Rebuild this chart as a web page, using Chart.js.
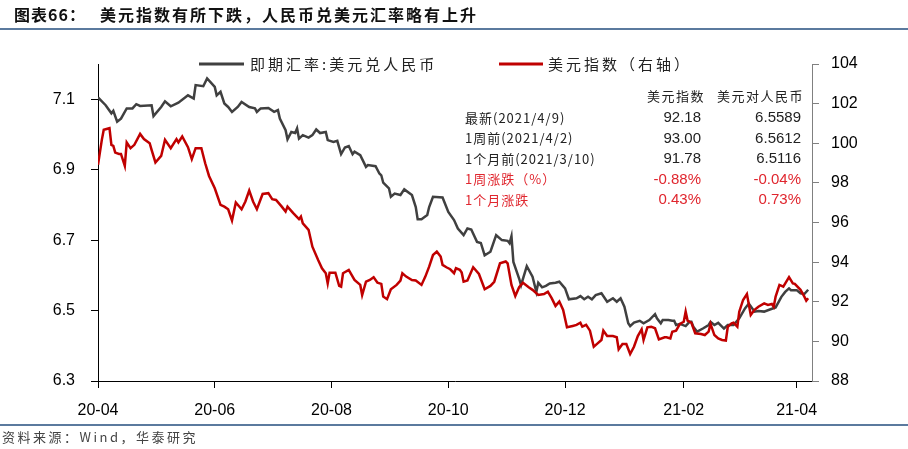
<!DOCTYPE html>
<html>
<head>
<meta charset="utf-8">
<script src="https://cdn.jsdelivr.net/npm/chart.js@4.4.1/dist/chart.umd.min.js"></script>
<style>
  body { margin: 0; background: #fff; }
  canvas { display: block; }
</style>
</head>
<body>
<canvas id="fxChart" width="908" height="449"></canvas>
<script>
// x values are days since 2020-04-01
const dayTicks = [0, 61, 122, 183, 244, 306, 365];
const dayTickLabels = ['20-04', '20-06', '20-08', '20-10', '20-12', '21-02', '21-04'];
const leftTicks = [6.3, 6.5, 6.7, 6.9, 7.1];

// 即期汇率: 美元兑人民币 (left axis)
const cnyDays = [0, 4, 7, 8, 10, 12, 15, 18, 20, 22, 28, 29, 33, 35, 38, 42, 47, 50, 51, 55, 57, 61, 62, 64, 66, 68, 70, 73, 75, 79,
  82, 83, 85, 89, 92, 94, 95, 98, 99, 101, 103, 104, 105, 107, 110, 112, 114, 116, 119, 120, 123, 125, 127, 129, 131, 133, 134, 137, 140, 141,
  145, 147, 148, 149, 152, 153, 155, 158, 160, 164, 166, 167, 169, 172, 173, 175, 180, 183, 186, 188, 191, 193, 195, 198, 200, 202, 205, 208, 211, 214,
  215, 216, 217, 220, 221, 224, 227, 229, 230, 232, 234, 236, 239, 241, 244, 246, 250, 252, 254, 256, 258, 260, 263, 266, 269, 271, 273, 275, 277, 278,
  280, 283, 285, 288, 291, 292, 294, 295, 298, 300, 301, 302, 304, 307, 309, 310, 311, 313, 316, 319, 320, 322, 324, 327, 329, 332, 335, 338, 340, 343,
  345, 348, 351, 354, 357, 359, 361, 362, 365, 367, 369, 371];
const cnyRate = [7.105, 7.083, 7.06, 7.067, 7.036, 7.045, 7.074, 7.074, 7.086, 7.081, 7.083, 7.052, 7.078, 7.094, 7.08, 7.09, 7.111, 7.102, 7.14, 7.137, 7.159, 7.135, 7.111, 7.121, 7.088, 7.078, 7.064, 7.078, 7.092, 7.078,
  7.074, 7.064, 7.074, 7.075, 7.064, 7.069, 7.045, 7.012, 6.986, 7.007, 7.004, 7.017, 6.988, 6.998, 6.991, 6.998, 7.014, 7.004, 7.007, 6.984, 6.979, 6.982, 6.944, 6.963, 6.967, 6.944, 6.951, 6.941, 6.908, 6.913,
  6.91, 6.889, 6.884, 6.863, 6.847, 6.823, 6.832, 6.828, 6.844, 6.828, 6.794, 6.759, 6.759, 6.771, 6.794, 6.823, 6.821, 6.78, 6.757, 6.733, 6.714, 6.733, 6.73, 6.695, 6.692, 6.657, 6.667, 6.714, 6.7, 6.698,
  6.691, 6.711, 6.638, 6.591, 6.572, 6.626, 6.596, 6.553, 6.579, 6.566, 6.57, 6.577, 6.579, 6.582, 6.563, 6.532, 6.535, 6.541, 6.532, 6.539, 6.532, 6.544, 6.549, 6.525, 6.535, 6.525, 6.535, 6.511, 6.464, 6.456,
  6.466, 6.471, 6.464, 6.473, 6.49, 6.478, 6.464, 6.473, 6.473, 6.471, 6.471, 6.459, 6.462, 6.456, 6.468, 6.468, 6.454, 6.44, 6.449, 6.459, 6.468, 6.459, 6.465, 6.449, 6.459, 6.459, 6.478, 6.506, 6.52, 6.497,
  6.499, 6.497, 6.503, 6.509, 6.539, 6.553, 6.563, 6.558, 6.558, 6.549, 6.547, 6.559];

// 美元指数 (right axis)
const dxyDays = [0, 2, 3, 6, 7, 8, 9, 11, 12, 14, 15, 17, 19, 22, 24, 27, 28, 30, 33, 35, 38, 41, 42, 44, 47, 49, 51, 54, 56, 58,
  61, 64, 66, 68, 70, 72, 75, 77, 79, 81, 83, 86, 89, 91, 93, 96, 98, 99, 102, 105, 106, 107, 110, 112, 115, 117, 119, 120, 121, 124,
  126, 127, 128, 131, 134, 137, 138, 140, 142, 144, 146, 148, 149, 151, 153, 156, 158, 159, 161, 164, 166, 169, 171, 173, 175, 177, 179, 180, 182, 184,
  186, 187, 189, 190, 191, 193, 196, 199, 202, 205, 207, 210, 213, 214, 216, 218, 220, 222, 225, 227, 230, 233, 235, 237, 239, 241, 243, 245, 248, 250,
  252, 253, 255, 257, 259, 261, 263, 264, 266, 269, 271, 272, 274, 276, 278, 280, 282, 284, 285, 287, 289, 291, 293, 296, 297, 299, 300, 302, 304, 306,
  307, 308, 310, 312, 315, 317, 319, 320, 322, 324, 326, 328, 329, 331, 332, 334, 335, 337, 339, 341, 343, 345, 348, 350, 352, 353, 354, 356, 358, 361,
  363, 364, 367, 369, 370, 371];
const dxyIndex = [98.91, 100.17, 100.68, 100.76, 99.92, 99.87, 99.53, 99.46, 99.46, 98.86, 100.04, 99.75, 99.92, 100.47, 100.21, 100.0, 99.67, 99.03, 99.36, 100.17, 99.75, 100.21, 100.04, 100.34, 99.8, 99.2, 99.75, 99.75, 98.99, 98.35,
  97.73, 96.89, 96.8, 96.67, 96.1, 97.01, 96.67, 97.06, 97.61, 97.06, 96.67, 97.44, 97.48, 97.18, 97.14, 96.8, 96.55, 96.8, 96.47, 96.17, 96.3, 95.96, 95.63, 94.78, 94.11, 93.69, 93.44, 92.93, 93.47, 93.47,
  92.8, 92.76, 93.44, 93.61, 93.1, 92.85, 92.34, 93.01, 93.1, 93.24, 92.96, 92.9, 92.26, 92.13, 92.63, 92.85, 93.07, 93.44, 93.27, 93.1, 93.07, 92.85, 93.27, 93.77, 94.36, 94.53, 94.28, 93.86, 93.74, 93.64,
  93.44, 93.69, 93.61, 93.47, 93.01, 93.07, 93.74, 93.4, 92.63, 92.8, 93.01, 93.94, 94.03, 93.94, 92.85, 92.29, 92.73, 92.96, 92.73, 92.6, 92.34, 92.39, 92.51, 92.18, 91.79, 92.01, 91.59, 90.71, 90.78, 90.83,
  90.94, 90.74, 90.83, 90.54, 89.73, 89.9, 90.07, 90.54, 90.27, 90.27, 90.21, 89.6, 89.87, 89.87, 89.36, 89.73, 90.27, 90.61, 90.07, 90.71, 90.74, 90.66, 90.1, 90.21, 90.21, 90.15, 90.49, 90.54, 90.88, 90.99,
  91.5, 91.05, 90.94, 90.41, 90.37, 90.32, 90.49, 90.88, 90.32, 90.15, 90.07, 90.04, 90.74, 90.91, 90.94, 90.74, 91.5, 92.09, 92.39, 91.33, 91.59, 91.75, 91.92, 91.84, 91.89, 91.75, 92.26, 92.85, 92.76, 93.24,
  92.93, 92.9, 92.6, 92.26, 92.06, 92.18];

// 右上角表格
const tableHeaders = ['美元指数', '美元对人民币'];
const tableRowLabels = ['最新(2021/4/9)', '1周前(2021/4/2)', '1个月前(2021/3/10)', '1周涨跌（%）', '1个月涨跌'];
const tableDxy = ['92.18', '93.00', '91.78', '-0.88%', '0.43%'];
const tableCny = ['6.5589', '6.5612', '6.5116', '-0.04%', '0.73%'];

const CJK = '"Noto Sans CJK SC", sans-serif';
const NUM = '"Liberation Sans", Arial, sans-serif';

const decorPlugin = {
  id: 'decor',
  afterDraw(chart) {
    const ctx = chart.ctx;
    ctx.save();
    // 标题
    ctx.fillStyle = '#111';
    ctx.textBaseline = 'middle';
    ctx.font = 'bold 16px ' + CJK;
    ctx.letterSpacing = '1px';
    ctx.fillText('图表66：', 14, 15);
    ctx.letterSpacing = '2px';
    ctx.fillText('美元指数有所下跌，人民币兑美元汇率略有上升', 100, 15);
    ctx.letterSpacing = '0px';
    ctx.strokeStyle = '#5b7a9e';
    ctx.lineWidth = 2;
    ctx.beginPath(); ctx.moveTo(0, 29); ctx.lineTo(908, 29); ctx.stroke();
    ctx.beginPath(); ctx.moveTo(0, 425); ctx.lineTo(908, 425); ctx.stroke();

    // 图例
    ctx.lineWidth = 3;
    ctx.strokeStyle = '#404040';
    ctx.beginPath(); ctx.moveTo(199, 64); ctx.lineTo(244, 64); ctx.stroke();
    ctx.strokeStyle = '#c00000';
    ctx.beginPath(); ctx.moveTo(499, 64); ctx.lineTo(543, 64); ctx.stroke();
    ctx.fillStyle = '#222';
    ctx.font = '15px ' + CJK;
    ctx.letterSpacing = '3px';
    ctx.fillText('即期汇率:美元兑人民币', 250, 64);
    ctx.fillText('美元指数（右轴）', 548, 64);

    // 表格
    ctx.font = '13px ' + CJK;
    ctx.letterSpacing = '1.5px';
    ctx.textAlign = 'right';
    ctx.fillText(tableHeaders[0], 705, 96);
    ctx.fillText(tableHeaders[1], 804, 96);
    tableRowLabels.forEach((label, i) => {
      const y = 118 + i * 20.5;
      ctx.fillStyle = i < 3 ? '#222' : '#e0262e';
      ctx.font = '13px ' + CJK;
      ctx.letterSpacing = '1px';
      ctx.textAlign = 'left';
      ctx.fillText(label, 465, y);
      ctx.font = '15px ' + NUM;
      ctx.letterSpacing = '0px';
      ctx.textAlign = 'right';
      ctx.fillText(tableDxy[i], 701, y);
      ctx.fillText(tableCny[i], 801, y);
    });

    // 资料来源
    ctx.textAlign = 'left';
    ctx.fillStyle = '#444';
    ctx.font = '13px ' + CJK;
    ctx.letterSpacing = '2.5px';
    ctx.fillText('资料来源：Wind，华泰研究', 2, 437);
    ctx.restore();
  }
};

new Chart(document.getElementById('fxChart'), {
  type: 'line',
  data: {
    datasets: [
      {
        label: '即期汇率:美元兑人民币',
        data: cnyDays.map((d, i) => ({ x: d, y: cnyRate[i] })),
        borderColor: '#404040',
        borderWidth: 2.5,
        pointRadius: 0,
        yAxisID: 'y',
        order: 1
      },
      {
        label: '美元指数（右轴）',
        data: dxyDays.map((d, i) => ({ x: d, y: dxyIndex[i] })),
        borderColor: '#c00000',
        borderWidth: 2.5,
        pointRadius: 0,
        yAxisID: 'y1',
        order: 0
      }
    ]
  },
  options: {
    responsive: false,
    animation: false,
    layout: { padding: { top: 64, left: 0, right: 0, bottom: 0 } },
    plugins: { legend: { display: false }, tooltip: { enabled: false } },
    scales: {
      x: {
        type: 'linear',
        min: 0,
        max: 373,
        afterBuildTicks: s => { s.ticks = dayTicks.map(v => ({ value: v })); },
        afterFit: s => { s.height = 68; },
        grid: { drawOnChartArea: false, drawTicks: true, tickLength: 7, color: '#000' },
        border: { display: true, color: '#000', width: 1 },
        ticks: {
          padding: 13,
          maxRotation: 0,
          color: '#000',
          font: { family: NUM, size: 16 },
          callback: v => dayTickLabels[dayTicks.indexOf(v)]
        }
      },
      y: {
        position: 'left',
        min: 6.3,
        max: 7.2,
        afterBuildTicks: s => { s.ticks = leftTicks.map(v => ({ value: v })); },
        afterFit: s => { s.width = 98; },
        grid: { drawOnChartArea: false, drawTicks: true, tickLength: 7, color: '#000' },
        border: { display: true, color: '#000', width: 1 },
        ticks: { padding: 16, color: '#000', font: { family: NUM, size: 16 }, callback: v => v.toFixed(1) }
      },
      y1: {
        position: 'right',
        min: 88,
        max: 104,
        afterFit: s => { s.width = 96; },
        grid: { drawOnChartArea: false, drawTicks: true, tickLength: 7, color: '#808080' },
        border: { display: true, color: '#808080', width: 1 },
        ticks: { stepSize: 2, padding: 12, color: '#000', font: { family: NUM, size: 16 } }
      }
    }
  },
  plugins: [decorPlugin]
});
</script>
</body>
</html>
